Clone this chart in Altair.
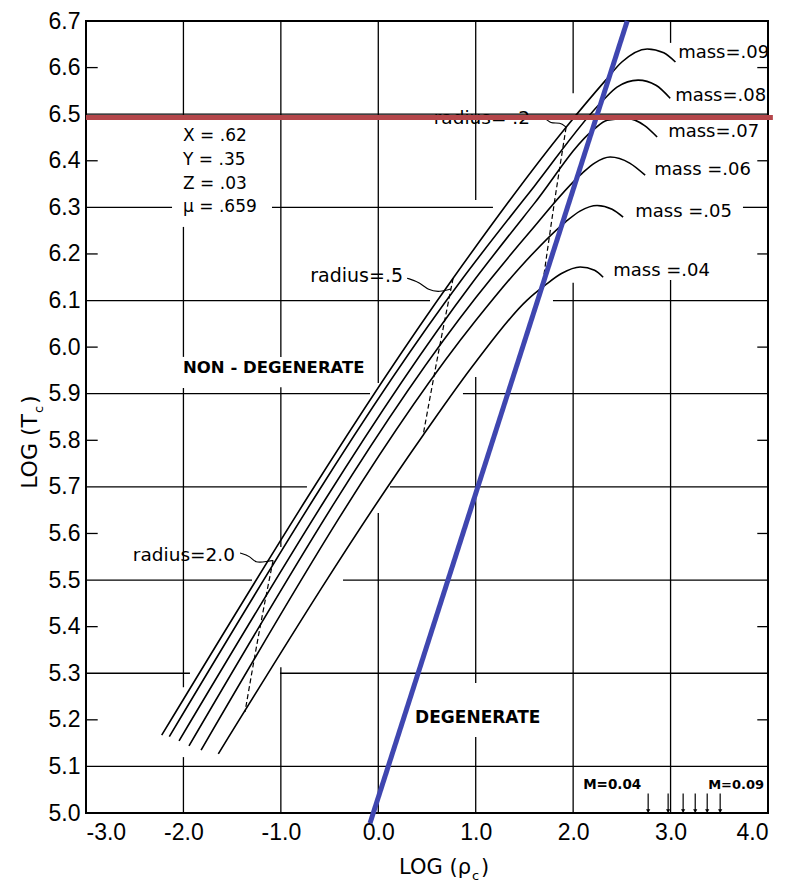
import altair as alt
import pandas as pd

# ---------------- data ----------------
x_tick_values = [-3.0, -2.0, -1.0, 0.0, 1.0, 2.0, 3.0, 4.0]
y_tick_values = [5.0, 5.1, 5.2, 5.3, 5.4, 5.5, 5.6, 5.7, 5.8, 5.9,
                 6.0, 6.1, 6.2, 6.3, 6.4, 6.5, 6.6, 6.7]

# mass tracks (log rho_c, log T_c)
m09_x = [-2.223, 0.768, 1.928, 2.33, 2.50, 2.76, 2.93, 3.05]
m09_y = [5.167, 6.148, 6.472, 6.572, 6.612, 6.640, 6.632, 6.612]
m08_x = [-2.145, 0.85, 1.6, 2.308, 2.45, 2.667, 2.85, 2.996]
m08_y = [5.164, 6.143, 6.345, 6.530, 6.558, 6.573, 6.562, 6.534]
m07_x = [-2.045, 0.95, 1.6, 2.205, 2.35, 2.554, 2.73, 2.862]
m07_y = [5.155, 6.134, 6.308, 6.466, 6.487, 6.491, 6.476, 6.451]
m06_x = [-1.943, 1.0, 1.55, 2.092, 2.22, 2.38, 2.58, 2.739]
m06_y = [5.144, 6.106, 6.246, 6.373, 6.395, 6.408, 6.395, 6.369]
m05_x = [-1.819, 1.0, 1.45, 1.918, 2.07, 2.246, 2.40, 2.513]
m05_y = [5.135, 6.057, 6.170, 6.268, 6.292, 6.304, 6.296, 6.279]
m04_x = [-1.642, 0.460, 1.0, 1.528, 1.713, 1.88, 2.072, 2.22, 2.308]
m04_y = [5.127, 5.811, 5.968, 6.101, 6.133, 6.158, 6.172, 6.165, 6.150]

# constant-radius dashed lines
r02_x = [1.928, 1.80, 1.682]
r02_y = [6.472, 6.300, 6.128]
r05_x = [0.768, 0.61, 0.460]
r05_y = [6.148, 5.980, 5.811]
r20_x = [-1.080, -1.23, -1.368]
r20_y = [5.542, 5.380, 5.217]

# leader squiggles from radius labels
ld02_x = [1.589, 1.713, 1.764, 1.867, 1.928]
ld02_y = [6.494, 6.494, 6.479, 6.483, 6.472]
ld05_x = [0.296, 0.429, 0.511, 0.634, 0.745]
ld05_y = [6.148, 6.139, 6.122, 6.118, 6.125]
ld20_x = [-1.419, -1.316, -1.265, -1.140, -1.080]
ld20_y = [5.558, 5.552, 5.536, 5.540, 5.542]

# overlay lines
red_x = [-3.0, 4.05]
red_y = [6.493, 6.493]
blue_x = [-0.085, 2.555]
blue_y = [4.978, 6.70]

# grid segments (with gaps as drawn)
h_y = [6.5, 6.3, 6.3, 6.3, 6.1, 6.1, 5.9, 5.9, 5.7, 5.7, 5.5, 5.5, 5.3, 5.3, 5.1]
h_x1 = [-3.0, -3.0, -1.091, 3.743, -3.0, 1.793, -3.0, 0.869, -3.0, 0.120, -3.0, -0.362, -3.0, -1.009, -3.0]
h_x2 = [4.0, -2.117, 1.177, 4.0, 0.531, 4.0, -0.085, 4.0, -0.732, 4.0, -1.296, 4.0, -1.933, 4.0, 4.0]
v_x = [-2, -2, -2, -2, -1, -1, -1, 0, 0, 1, 1, 1, 2, 2, 3, 3]
v_y1 = [6.700, 6.258, 5.912, 5.120, 6.700, 5.914, 5.313, 6.700, 5.644, 6.700, 5.936, 5.163, 6.700, 6.138, 6.700, 6.144]
v_y2 = [6.498, 5.979, 5.270, 5.000, 5.979, 5.571, 5.000, 5.923, 5.000, 6.316, 5.279, 5.000, 6.545, 5.000, 6.653, 5.000]

# short inward ticks at even tenths
tick_y = [5.2, 5.4, 5.6, 5.8, 6.0, 6.2, 6.4, 6.6]

# mass arrows at bottom (M=0.04 ... M=0.09)
arrow_x = [2.770, 2.975, 3.129, 3.253, 3.376, 3.509]

# annotations
left_text = ["X = .62", "Y = .35", "Z = .03", "\u03bc = .659",
             "mass=.09", "mass=.08", "mass=.07", "mass =.06", "mass =.05", "mass =.04"]
left_x = [-2.004, -2.004, -2.004, -2.004, 3.078, 3.047, 2.975, 2.832, 2.637, 2.411]
left_y = [6.453, 6.401, 6.350, 6.300, 6.631, 6.539, 6.461, 6.380, 6.290, 6.163]
left_size = [17, 17, 17, 17, 18, 18, 18, 18, 18, 18]

bold_text = ["NON - DEGENERATE", "DEGENERATE", "M=0.04", "M=0.09"]
bold_x = [-2.004, 0.378, 2.103, 3.386]
bold_y = [5.955, 5.204, 5.060, 5.060]
bold_size = [16.5, 17, 13.5, 13]

right_text = ["radius= .2", "radius=.5", "radius=2.0"]
right_x = [1.557, 0.254, -1.471]
right_y = [6.491, 6.153, 5.554]
right_size = [18.5, 19, 18.5]

# ---------------- build tables ----------------
def series(groups):
    rows = []
    for name, xs, ys in groups:
        for i, (a, b) in enumerate(zip(xs, ys)):
            rows.append({"g": name, "o": i, "x": a, "y": b})
    return pd.DataFrame(rows)

curves = series([("0.09", m09_x, m09_y), ("0.08", m08_x, m08_y), ("0.07", m07_x, m07_y),
                 ("0.06", m06_x, m06_y), ("0.05", m05_x, m05_y), ("0.04", m04_x, m04_y)])
dashed = series([("r02", r02_x, r02_y), ("r05", r05_x, r05_y), ("r20", r20_x, r20_y)])
leaders = series([("l02", ld02_x, ld02_y), ("l05", ld05_x, ld05_y), ("l20", ld20_x, ld20_y)])
red = series([("red", red_x, red_y)])
blue = series([("blue", blue_x, blue_y)])

hgrid = pd.DataFrame({"y": h_y, "x1": h_x1, "x2": h_x2})
vgrid = pd.DataFrame({"x": v_x, "y1": v_y1, "y2": v_y2})
lticks = pd.DataFrame({"y": tick_y, "x1": [-3.0] * len(tick_y), "x2": [-2.88] * len(tick_y)})
rticks = pd.DataFrame({"y": tick_y, "x1": [3.89] * len(tick_y), "x2": [4.0] * len(tick_y)})
arrows = pd.DataFrame({"x": arrow_x, "y1": [5.042] * 6, "y2": [5.004] * 6})

ltab = pd.DataFrame({"x": left_x, "y": left_y, "t": left_text, "s": left_size})
btab = pd.DataFrame({"x": bold_x, "y": bold_y, "t": bold_text, "s": bold_size})
rtab = pd.DataFrame({"x": right_x, "y": right_y, "t": right_text, "s": right_size})

# ---------------- chart ----------------
XS = alt.Scale(domain=[-3, 4], nice=False, zero=False)
YS = alt.Scale(domain=[5.0, 6.7], nice=False, zero=False)
FONT = "DejaVu Sans"

xaxis = alt.Axis(values=x_tick_values, title=None, grid=False, ticks=False, domain=False,
                 labelFont="Liberation Sans", labelFontSize=23, labelColor="black",
                 labelPadding=8,
                 labelExpr="(datum.value < 0 ? '-' : '') + format(abs(datum.value), '.1f')")
yaxis = alt.Axis(values=y_tick_values, title=None, grid=False, ticks=False, domain=False,
                 labelFont="Liberation Sans", labelFontSize=23, labelColor="black",
                 labelPadding=6, format=".1f")


def X(f):
    return alt.X(f, scale=XS, axis=xaxis, title=None)


def Y(f):
    return alt.Y(f, scale=YS, axis=yaxis, title=None)


hg = alt.Chart(hgrid).mark_rule(color="black", strokeWidth=1.3).encode(
    x=X("x1:Q"), x2="x2:Q", y=Y("y:Q"))
vg = alt.Chart(vgrid).mark_rule(color="black", strokeWidth=1.3).encode(
    x=X("x:Q"), y=Y("y1:Q"), y2="y2:Q")
lt = alt.Chart(lticks).mark_rule(color="black", strokeWidth=1.3).encode(
    x=X("x1:Q"), x2="x2:Q", y=Y("y:Q"))
rt = alt.Chart(rticks).mark_rule(color="black", strokeWidth=1.3).encode(
    x=X("x1:Q"), x2="x2:Q", y=Y("y:Q"))

cv = alt.Chart(curves).mark_line(color="black", strokeWidth=1.6, interpolate="monotone").encode(
    x=X("x:Q"), y=Y("y:Q"), detail="g:N", order="o:Q")
ds = alt.Chart(dashed).mark_line(color="black", strokeWidth=1.2, strokeDash=[5, 3],
                                 interpolate="monotone").encode(
    x=X("x:Q"), y=Y("y:Q"), detail="g:N", order="o:Q")
ld = alt.Chart(leaders).mark_line(color="black", strokeWidth=1.1, interpolate="basis").encode(
    x=X("x:Q"), y=Y("y:Q"), detail="g:N", order="o:Q")

ar = alt.Chart(arrows).mark_rule(color="black", strokeWidth=1.2).encode(
    x=X("x:Q"), y=Y("y1:Q"), y2="y2:Q")
ah = alt.Chart(arrows).mark_point(shape="triangle-down", filled=True, color="black",
                                  size=18, opacity=1).encode(
    x=X("x:Q"), y=Y("y2:Q"))

tl = alt.Chart(ltab).mark_text(align="left", baseline="middle", font=FONT, color="black").encode(
    x=X("x:Q"), y=Y("y:Q"), text="t:N", size=alt.Size("s:Q", scale=None))
tb = alt.Chart(btab).mark_text(align="left", baseline="middle", font=FONT, fontWeight="bold",
                               color="black").encode(
    x=X("x:Q"), y=Y("y:Q"), text="t:N", size=alt.Size("s:Q", scale=None))
tr = alt.Chart(rtab).mark_text(align="right", baseline="middle", font=FONT, color="black").encode(
    x=X("x:Q"), y=Y("y:Q"), text="t:N", size=alt.Size("s:Q", scale=None))

bl = alt.Chart(blue).mark_line(color="#3f46b0", strokeWidth=5).encode(
    x=X("x:Q"), y=Y("y:Q"), order="o:Q")
rd = alt.Chart(red).mark_line(color="#b4464a", strokeWidth=5).encode(
    x=X("x:Q"), y=Y("y:Q"), order="o:Q")

one = pd.DataFrame({"k": [0]})
xt1 = alt.Chart(one).mark_text(align="right", baseline="alphabetic", font=FONT, fontSize=21,
                               color="black").encode(
    x=alt.value(385), y=alt.value(853), text=alt.value("LOG (\u03c1"))
xt2 = alt.Chart(one).mark_text(align="left", baseline="alphabetic", font=FONT, fontSize=13,
                               color="black").encode(
    x=alt.value(386), y=alt.value(859), text=alt.value("c"))
xt3 = alt.Chart(one).mark_text(align="left", baseline="alphabetic", font=FONT, fontSize=21,
                               color="black").encode(
    x=alt.value(395), y=alt.value(853), text=alt.value(")"))
yt1 = alt.Chart(one).mark_text(align="right", baseline="alphabetic", font=FONT, fontSize=22,
                               angle=270, color="black").encode(
    x=alt.value(-49), y=alt.value(393), text=alt.value("LOG (T"))
yt2 = alt.Chart(one).mark_text(align="left", baseline="alphabetic", font=FONT, fontSize=13,
                               angle=270, color="black").encode(
    x=alt.value(-43), y=alt.value(392), text=alt.value("c"))
yt3 = alt.Chart(one).mark_text(align="left", baseline="alphabetic", font=FONT, fontSize=22,
                               angle=270, color="black").encode(
    x=alt.value(-49), y=alt.value(383), text=alt.value(")"))

chart = alt.layer(hg, vg, lt, rt, cv, ds, ld, ar, ah, tl, tb, tr, bl, rd,
                  xt1, xt2, xt3, yt1, yt2, yt3).properties(
    width=682, height=792,
    padding={"left": 78, "top": 13, "right": 12, "bottom": 70},
    autosize=alt.AutoSizeParams(type="none"),
    background="white",
).configure_view(stroke="black", strokeWidth=2)

chart.save("out.html", embed_options={"renderer": "svg", "actions": False})
